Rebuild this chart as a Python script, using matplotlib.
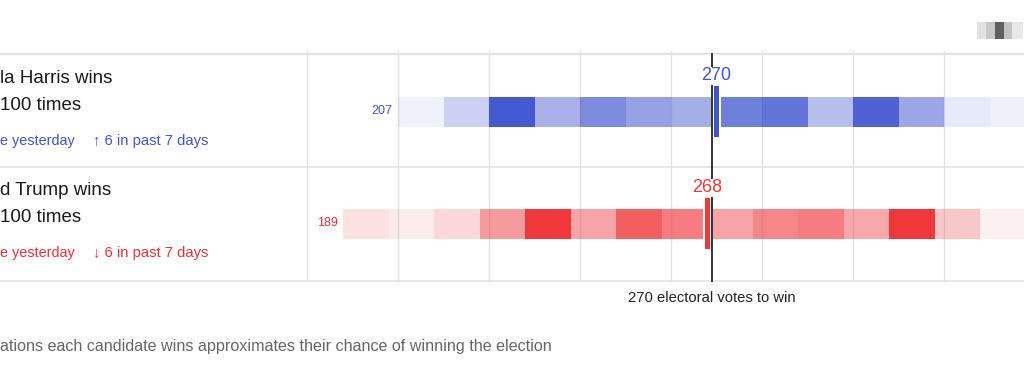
import matplotlib.pyplot as plt
from matplotlib.patches import Rectangle

# simulated electoral-vote distribution, one cell per 10 EV
bin_width = 10
harris_start = 201
harris_share = [0.08, 0.27, 0.97, 0.45, 0.68, 0.55, 0.47, 0.75, 0.82, 0.38, 0.93, 0.52, 0.13, 0.09]
trump_start = 189
trump_share = [0.15, 0.10, 0.20, 0.50, 1.00, 0.45, 0.80, 0.65, 0.45, 0.60, 0.65, 0.43, 1.00, 0.28, 0.08]
harris_median, trump_median = 270, 268
harris_min, trump_min = 207, 189
win_votes = 270
grid_votes = [181, 201, 221, 241, 261, 281, 301, 321]

# left column, as much as is visible in the cropped view
names = ["la Harris wins", "d Trump wins"]
odds = ["100 times", "100 times"]
day_change = ["e yesterday", "e yesterday"]
week_change = ["\u2191 6 in past 7 days", "\u2193 6 in past 7 days"]
note = "ations each candidate wins approximates their chance of winning the election"

BLUE = "#3f55cf"
RED = "#f0373a"
BLUE_TXT = "#4456c4"
RED_TXT = "#e2343a"
LINE = "#e3e3e3"

plt.rcParams["font.family"] = ["Liberation Sans", "DejaVu Sans"]

fig = plt.figure(figsize=(10.24, 3.69), dpi=100)
ax = fig.add_axes([0, 0, 1, 1])
# 4.55 px per electoral vote, 270 sits at x=712px
px = 4.55
ax.set_xlim(win_votes - 712 / px, win_votes + (1024 - 712) / px)
ax.set_ylim(369, 0)
ax.axis("off")

# frame lines
ax.axhline(54, color=LINE, lw=1.6)
ax.axhline(167, color=LINE, lw=1.2)
ax.axhline(281, color=LINE, lw=1.2)
for g in grid_votes:
    ax.plot([g, g], [51, 281], color=LINE, lw=1.0, zorder=1)

rows = [
    (harris_start, harris_share, harris_median, harris_min, BLUE, BLUE_TXT, 111.5),
    (trump_start, trump_share, trump_median, trump_min, RED, RED_TXT, 223.5),
]
for start, share, med, lo, col, tcol, yc in rows:
    for i, s in enumerate(share):
        ax.add_patch(Rectangle((start + i * bin_width, yc - 15), bin_width, 30,
                               facecolor=col, alpha=s, lw=0, zorder=2))
    # median marker with white gap
    ax.add_patch(Rectangle((med + 1 - 0.55 - 0.5, yc - 15), 2.1, 30,
                           facecolor="white", lw=0, zorder=3))
    ax.add_patch(Rectangle((med + 1 - 0.55, yc - 25.5), 1.1, 51,
                           facecolor=col, lw=0, zorder=5))
    ax.text(med + 1, yc - 35.5, str(med), color=col, fontsize=13, ha="center", va="center",
            zorder=6, bbox=dict(facecolor="white", edgecolor="none", pad=0.5))
    ax.text(start - 1.3, yc, str(lo), color=tcol, fontsize=9, ha="right", va="center")

ax.plot([win_votes, win_votes], [54, 281], color="#333333", lw=1.4, zorder=4)
ax.text(win_votes, 297.5, "270 electoral votes to win", color="#222222", fontsize=10.6,
        ha="center", va="center")

# left column text
for i, yc in enumerate([111.5, 223.5]):
    tcol = BLUE_TXT if i == 0 else RED_TXT
    fig.text(0.5 / 1024, 1 - (yc - 33) / 369, names[i], fontsize=13.5, color="#1a1a1a",
             ha="left", va="center")
    fig.text(0.5 / 1024, 1 - (yc - 6) / 369, odds[i], fontsize=13.5, color="#1a1a1a",
             ha="left", va="center")
    fig.text(0.5 / 1024, 1 - (yc + 29) / 369, day_change[i], fontsize=10.4, color=tcol,
             ha="left", va="center")
    fig.text(93 / 1024, 1 - (yc + 29) / 369, week_change[i], fontsize=10.6, color=tcol,
             ha="left", va="center")

fig.text(0.5 / 1024, 1 - 347 / 369, note, fontsize=11.6, color="#666666", ha="left",
         va="center")

# small icon top right
icon_x = [977, 986, 995, 1004, 1012]
icon_w = [9, 9, 9, 8, 11]
icon_c = ["#e2e2e2", "#c8c8c8", "#606060", "#c2c2c2", "#e8e8e8"]
for x0, w, c in zip(icon_x, icon_w, icon_c):
    fig.patches.append(Rectangle((x0 / 1024, 1 - 39 / 369), w / 1024, 17 / 369,
                                 transform=fig.transFigure, facecolor=c, lw=0))

fig.savefig("out.png", dpi=100)
